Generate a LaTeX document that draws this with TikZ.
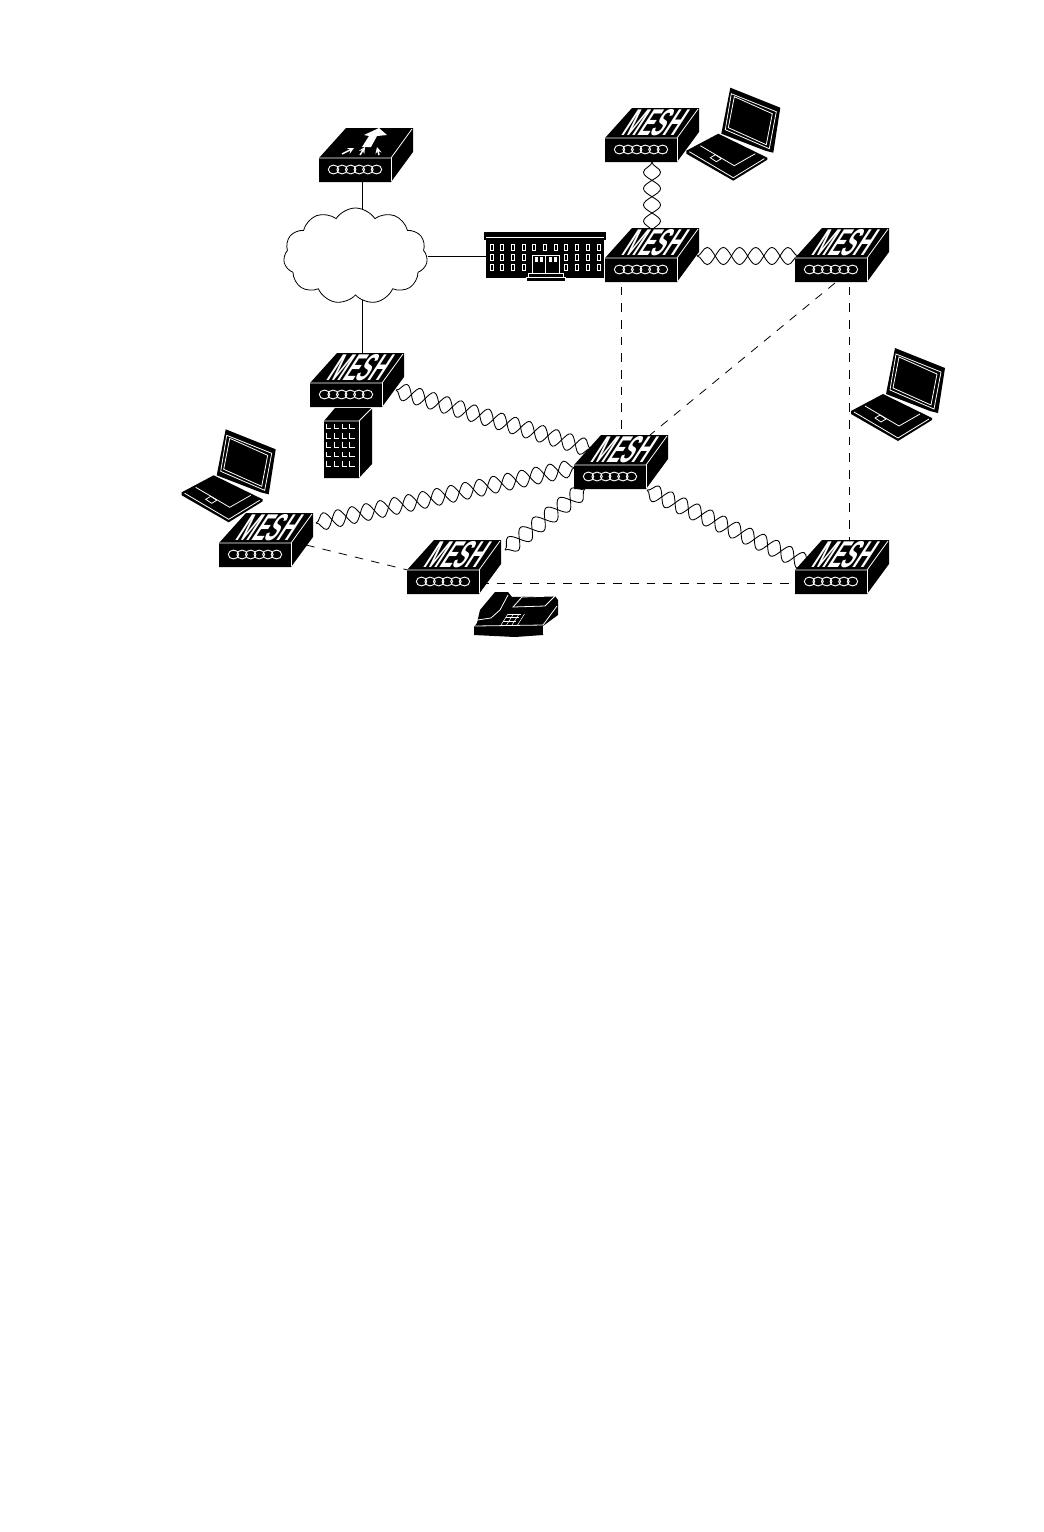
\documentclass[tikz,border=0pt]{standalone}
\usepackage{fontspec}
\newfontfamily\meshfont{Liberation Sans}
\usetikzlibrary{decorations.pathmorphing,shapes.symbols}

\tikzset{
  wireline/.style={line width=0.7pt},
  wiredash/.style={line width=0.6pt, dash pattern=on 6.5pt off 6pt},
  twistpair/.style={
    preaction={draw, line width=0.65pt, decorate, decoration={snake, amplitude=6.4pt, segment length=#1}},
    postaction={draw, line width=0.65pt, decorate, decoration={snake, amplitude=6.4pt, segment length=#1, mirror}}},
  whiteline/.style={draw=white, line width=0.6pt},
  boxbody/.pic={
    \fill[black] (0,0) -- (27,-30) -- (94,-30) -- (94,-6) -- (72,24) -- (0,24) -- cycle;
    \draw[whiteline] (0,0) -- (72,0) -- (93,-29);
    \draw[whiteline] (72,0) -- (72,23);
    \foreach \i in {0,...,5}
      \draw[white, line width=0.7pt] (14.5+8.6*\i,11.5) ellipse (3.9pt and 3.3pt);
  },
  meshbox/.pic={
    \pic {boxbody};
    \node[text=white, inner sep=0pt, xslant=0.65, xscale=0.51, font=\meshfont\bfseries\fontsize{28}{28}\selectfont]
      (-lbl) at (51,-15) {MESH};
  },
  uplinkbox/.pic={
    \pic {boxbody};
    \fill[white] (43,-11) -- (52,-11) -- (58,-22) -- (68,-23) -- (60,-30) -- (45,-23) -- (50,-22) -- cycle;
    \draw[->, >=stealth, white, line width=1.1pt] (23,-4) -- (35,-10);
    \draw[->, >=stealth, white, line width=1.1pt] (41,-3) -- (46,-11);
    \draw[->, >=stealth, white, line width=1.1pt] (60,-3) -- (58,-11);
  },
  laptop/.pic={
    \fill[black] (-1,-1) -- (31,-18) -- (80,6) -- (80,8) -- (46,29) -- (-1,2) -- cycle;
    \draw[whiteline] (2,0) -- (46,26) -- (77,7);
    \draw[whiteline] (13,-6) -- (47,14) -- (68,2);
    \draw[whiteline] (23,6) -- (28,3) -- (34,7) -- (29,10) -- cycle;
    \fill[black] (43,-64) -- (93,-44) -- (86,1) -- (78,-1) -- (34,-18) -- cycle;
    \draw[whiteline] (44,-58) -- (89,-40) -- (82,-3) -- (38,-22) -- cycle;
    \draw[whiteline] (47,-55) -- (85,-38) -- (79,-7) -- (41,-24) -- cycle;
  },
}

\begin{document}
\begin{tikzpicture}[x=0.75pt, y=-0.75pt]
  \path[use as bounding box, fill=white] (0,0) rectangle (1044,1532);

  % link ends
  \coordinate (rtrEnd) at (362,170);
  \coordinate (hubUp) at (362,370);
  \coordinate (meshCdown) at (621,270);
  \coordinate (meshMup) at (621,460);
  \coordinate (meshRdiag) at (835,283);
  \coordinate (meshMdiag) at (650,435);
  \coordinate (meshRdown) at (849,270);
  \coordinate (meshBRup) at (849,550);
  \coordinate (meshBside) at (480,583);
  \coordinate (meshBRside) at (810,583);
  \coordinate (meshLLside) at (290,541);
  \coordinate (meshBleft) at (420,573);

  \coordinate (twTa) at (652,162);
  \coordinate (twTb) at (652,244.5);
  \coordinate (twCa) at (697,256);
  \coordinate (twCb) at (811,256);
  \coordinate (twHa) at (396,390);
  \coordinate (twHb) at (601.7,452.1);
  \coordinate (twLa) at (316,523);
  \coordinate (twLb) at (586.2,465);
  \coordinate (twBa) at (505,550);
  \coordinate (twBb) at (594.7,481.2);
  \coordinate (twRa) at (647,490);
  \coordinate (twRb) at (819.3,569);

  % wired links
  \draw[wireline] (rtrEnd) -- (rtrEnd |- 0,256);
  \draw[wireline] (hubUp) -- (hubUp |- 0,256);
  \draw[wiredash] (meshCdown) -- (meshMup);
  \draw[wiredash] (meshRdiag) -- (meshMdiag);
  \draw[wiredash] (meshRdown) -- (meshBRup);
  \draw[wiredash] (meshBside) -- (meshBRside);
  \draw[wiredash] (meshLLside) -- (meshBleft);

  % twisted pairs
  \path[twistpair=24.5pt] (twTa) -- (twTb);
  \path[twistpair=24.3pt] (twCa) -- (twCb);
  \path[twistpair=21.4pt] (twHa) -- (twHb);
  \path[twistpair=21.7pt] (twLa) -- (twLb);
  \path[twistpair=24.1pt] (twBa) -- (twBb);
  \path[twistpair=21.8pt] (twRa) -- (twRb);

  % cloud
  \node[cloud, cloud puffs=11, cloud puff arc=115, draw, fill=white, line width=0.6pt, aspect=1.5,
        minimum width=108pt, minimum height=72pt, inner sep=0pt] (inet) at (355.5,256) {};

  % building
  \node[fill=black, minimum width=88.5pt, minimum height=28.5pt, inner sep=0pt] (bldg) at (545,259) {};
  \fill[black] (484,232) rectangle (606,240);
  \draw[whiteline] (486,237) -- (604,237);
  \draw[wireline] (inet) ++(72,0) -- (inet -| bldg.west);
  \foreach \i in {0,...,10}
    \draw[whiteline] (490.2+10.67*\i,244) rectangle ++(3,6);
  \foreach \i in {0,1,2,3,7,8,9,10}
    \foreach \r in {254,264}
      \draw[whiteline] (490.2+10.67*\i,\r) rectangle ++(3,6);
  \draw[whiteline] (532,255) rectangle (559,273);
  \draw[whiteline] (545.5,255) -- (545.5,273);
  \foreach \d in {535,540,549,554}
    \fill[white] (\d,257) rectangle ++(3,5);
  \draw[whiteline, fill=black] (528,273) rectangle (563,277);
  \draw[whiteline, fill=black] (526,277) rectangle (565,281);

  % devices
  \pic (rtr) at (319,158) {uplinkbox};
  \pic (meshT) at (605,138) {meshbox};
  \pic (meshC) at (605,258) {meshbox};
  \pic (meshR) at (795,258) {meshbox};
  \pic (meshH) at (310,383) {meshbox};
  \pic (meshM) at (574,465) {meshbox};
  \pic (meshLL) at (219,543) {meshbox};
  \pic (meshB) at (407,570) {meshbox};
  \pic (meshBR) at (795,570) {meshbox};

  \pic at (687.3,151.7) {laptop};
  \pic at (182.7,493.3) {laptop};
  \pic at (852,412) {laptop};

  % server block
  \fill[black] (324,421) -- (335,408) -- (372,408) -- (372,464) -- (359,478) -- (324,478) -- cycle;
  \draw[whiteline] (324,421) -- (359,421) -- (372,408);
  \draw[whiteline] (359,421) -- (359,477);
  \foreach \c in {326,334,342.3,349.7}
    \foreach \r in {0,...,4}
      \draw[whiteline] (\c,423.5+9.4*\r) -- ++(0,5) -- ++(5,0);

  % telephone
  \fill[black] (474,627) -- (474,635) -- (515,637) -- (543,635) -- (543,626) -- (558,615)
    -- (558,600) -- (555,596) -- (512,597) -- (508,592) -- (495,592) -- (480,610) -- (477,623) -- cycle;
  \draw[whiteline] (475,626) -- (543,625) -- (557,606);
  \draw[whiteline] (477,620) -- (491,618) -- (500,610) -- (508,595);
  \draw[whiteline] (543,626) -- (543,634);
  \draw[whiteline, fill=black] (513,607) -- (522,597) -- (555,596) -- (545,606) -- cycle;
  \foreach \k in {0,...,3}
    \draw[white, line width=0.4pt] (501+\k*5.5,625) -- (508+\k*5.5,614);
  \foreach \k in {0,...,3}
    \draw[white, line width=0.4pt] (508-\k*2.3,614+\k*3.7) -- (521-\k*2.3,614+\k*3.7);
\end{tikzpicture}
\end{document}
